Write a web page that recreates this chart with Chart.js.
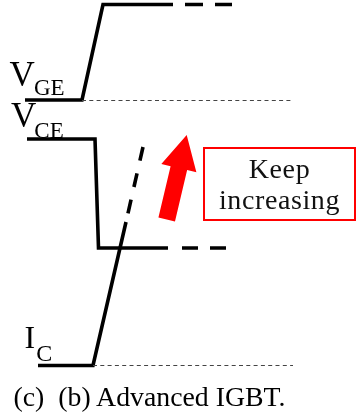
<!DOCTYPE html>
<html><head><meta charset="utf-8">
<script src="https://cdn.jsdelivr.net/npm/chart.js@4"></script>
<style>
html,body{margin:0;padding:0;background:#fff;}
#wrap{position:relative;width:357px;height:412px;overflow:hidden;background:#fff;}
#c{position:absolute;left:0;top:0;}
.t{position:absolute;font-family:"Liberation Serif","Times New Roman",serif;color:#000;line-height:1;white-space:pre;}
#box{position:absolute;left:203px;top:147px;width:153px;height:74px;box-sizing:border-box;border:2px solid #f00;}
.k{position:absolute;left:0;width:100%;text-align:center;font-family:"Liberation Serif","Times New Roman",serif;font-size:28px;line-height:1;letter-spacing:0.6px;color:#111;}
</style></head><body>
<div id="wrap">
<canvas id="c" width="357" height="412"></canvas>
<div class="t" style="left:9.5px;top:57.2px;font-size:35px;">V</div>
<div class="t" style="left:34px;top:75.7px;font-size:23px;">GE</div>
<div class="t" style="left:11px;top:97.7px;font-size:35px;">V</div>
<div class="t" style="left:34.3px;top:118.7px;font-size:23px;">CE</div>
<div class="t" style="left:24.4px;top:321.2px;font-size:32px;">I</div>
<div class="t" style="left:36.3px;top:340.9px;font-size:24px;">C</div>
<div id="box">
  <div class="k" style="top:5.5px;">Keep</div>
  <div class="k" style="top:36.5px;">increasing</div>
</div>
<div class="t" style="left:13.5px;top:382.8px;font-size:27.8px;">(c)  (b) Advanced IGBT.</div>
</div>
<script>
// Waveform data (time axis: 0..357, level axis: 0..412, level grows upward)
const vgeTime   = [25, 82, 103, 173];
const vgeLevel  = [312, 312, 407.5, 407.5];
const vgeExtTime  = [185, 232];
const vgeExtLevel = [407.5, 407.5];

const vceTime   = [27, 95, 98.5, 168];
const vceLevel  = [273, 273, 164, 164];
const vceExtTime  = [182, 228];
const vceExtLevel = [164, 164];

const icTime    = [38, 93, 126];
const icLevel   = [46.5, 46.5, 190];
const icExtTime   = [143, 126];
const icExtLevel  = [265, 190];

const vgeBaseTime  = [82, 293];
const vgeBaseLevel = [311.5, 311.5];
const icBaseTime   = [93, 293];
const icBaseLevel  = [46.5, 46.5];

const arrowTail = [166.7, 192.5];
const arrowTip  = [186.7, 277];

function pts(xs, ys){ return xs.map((x,i)=>({x:x, y:ys[i]})); }

function solid(xs, ys){
  return {data: pts(xs, ys), borderColor:'#000', borderWidth:3.6, pointRadius:0, showLine:true, fill:false, tension:0, borderJoinStyle:'miter', borderCapStyle:'butt'};
}
function dashed(xs, ys, dash){
  const d = solid(xs, ys); d.borderDash = dash; return d;
}
function thin(xs, ys){
  return {data: pts(xs, ys), borderColor:'#444', borderWidth:1, borderDash:[4,3.3], pointRadius:0, showLine:true, fill:false, tension:0};
}

const arrowPlugin = {
  id:'arrow',
  afterDatasetsDraw(chart){
    const ctx = chart.ctx, xs = chart.scales.x, ys = chart.scales.y;
    const x0 = xs.getPixelForValue(arrowTail[0]), y0 = ys.getPixelForValue(arrowTail[1]);
    const x1 = xs.getPixelForValue(arrowTip[0]),  y1 = ys.getPixelForValue(arrowTip[1]);
    const dx = x1-x0, dy = y1-y0, L = Math.hypot(dx,dy);
    const ux = dx/L, uy = dy/L, nx = -uy, ny = ux;
    const sw = 17/2, hw = 36/2, hl = 34;
    const bx = x1-ux*hl, by = y1-uy*hl;
    ctx.save();
    ctx.fillStyle = '#ff0000';
    ctx.beginPath();
    ctx.moveTo(x0+nx*sw, y0+ny*sw);
    ctx.lineTo(bx+nx*sw, by+ny*sw);
    ctx.lineTo(bx+nx*hw, by+ny*hw);
    ctx.lineTo(x1, y1);
    ctx.lineTo(bx-nx*hw, by-ny*hw);
    ctx.lineTo(bx-nx*sw, by-ny*sw);
    ctx.lineTo(x0-nx*sw, y0-ny*sw);
    ctx.closePath();
    ctx.fill();
    ctx.restore();
  }
};

new Chart(document.getElementById('c'), {
  type:'scatter',
  data:{ datasets:[
    thin(vgeBaseTime, vgeBaseLevel),
    thin(icBaseTime, icBaseLevel),
    solid(vgeTime, vgeLevel),
    dashed(vgeExtTime, vgeExtLevel, [18,12]),
    solid(vceTime, vceLevel),
    dashed(vceExtTime, vceExtLevel, [16,12]),
    solid(icTime, icLevel),
    dashed(icExtTime, icExtLevel, [14,13])
  ]},
  options:{
    responsive:false,
    animation:false,
    layout:{padding:0},
    plugins:{legend:{display:false}, tooltip:{enabled:false}, title:{display:false}},
    scales:{
      x:{type:'linear', display:false, min:0, max:357},
      y:{type:'linear', display:false, min:0, max:412}
    }
  },
  plugins:[arrowPlugin]
});
</script>
</body></html>
